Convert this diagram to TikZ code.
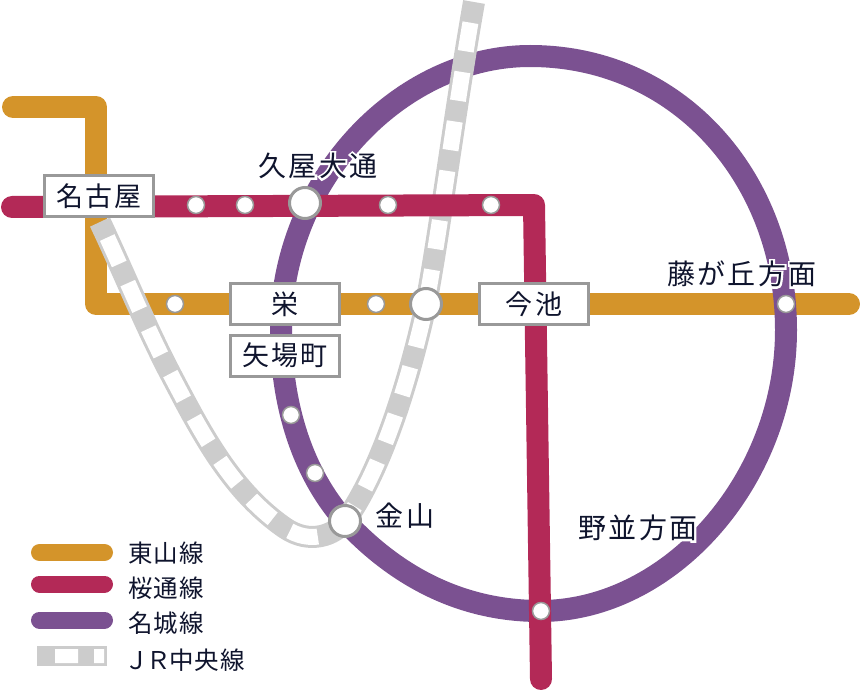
\documentclass[tikz,border=0pt]{standalone}
\usepackage{fontspec}
\usetikzlibrary{positioning}
\newfontfamily\jpfont[LetterSpace=8]{Noto Sans CJK JP}
\newfontfamily\halofont[LetterSpace=8,FakeBold=14]{Noto Sans CJK JP}
\newfontfamily\keyfont[LetterSpace=4]{Noto Sans CJK JP}
\definecolor{higashi}{RGB}{212,148,42}
\definecolor{sakura}{RGB}{179,41,87}
\definecolor{meijo}{RGB}{123,81,145}
\definecolor{jrgrey}{RGB}{204,204,204}
\definecolor{frame}{RGB}{153,153,153}
\definecolor{ink}{RGB}{15,20,45}
\newcommand{\halotext}[1]{\rlap{\halofont\color{white}#1}#1}
\tikzset{
 linepath/.style={line width=22pt,line join=round,line cap=round},
 stop/.style={circle,draw=frame,fill=white,line width=1.5pt,minimum size=17pt,inner sep=0pt},
 bigstop/.style={circle,draw=frame,fill=white,line width=3pt,minimum size=31pt,inner sep=0pt},
 namebox/.style={draw=frame,fill=white,line width=3pt,minimum width=109pt,minimum height=41pt,inner sep=0pt,font=\fontsize{27}{27}\jpfont,text=ink},
 namelabel/.style={font=\fontsize{28}{28}\jpfont,text=ink,inner sep=0pt},
 pill/.style={line width=17pt,line cap=round},
 keylabel/.style={font=\fontsize{24.5}{25}\keyfont,text=ink,inner sep=0pt,anchor=west}
}
\newcommand{\jrpath}{(474,2) .. controls (455,110) and (440,230) .. (426,304) .. controls (405,400) and (375,480) .. (345,521) .. controls (335,535) and (310,545) .. (285,528) .. controls (230,490) and (200,430) .. (170,373) .. controls (145,325) and (125,275) .. (100,222)}
\begin{document}
\begin{tikzpicture}[x=1pt,y=-1pt]
 \useasboundingbox (0,0) rectangle (860,690);
 % lines
 \draw[linepath,higashi] (13,107) -- (96,107) -- (96,304) -- (849,304);
 \draw[line width=22pt,meijo] (530,56) .. controls (680,56) and (786,180) .. (786,330) .. controls (786,480) and (670,611) .. (540,611) .. controls (460,611) and (395,575) .. (345,521) .. controls (300,470) and (281,400) .. (281,330) .. controls (281,180) and (400,56) .. cycle;
 % JR line with its ties
 \draw[line width=22pt,jrgrey] \jrpath;
 \draw[line width=16pt,white,dash pattern=on 29pt off 21pt,dash phase=29pt] \jrpath;
 \draw[linepath,sakura] (12,207) -- (534,205) -- (541,679);
 % small stops
 \node[stop] (s1) at (196,205){};
 \node[stop] (s2) at (245,205){};
 \node[stop] (s3) at (388,205){};
 \node[stop] (s4) at (491,205){};
 \node[stop] (h1) at (175,304){};
 \node[stop] (h2) at (376,304){};
 \node[stop] (fuji) at (786,304){};
 \node[stop] (m1) at (291,415){};
 \node[stop] (m2) at (315,473){};
 \node[stop] (nami) at (541,611){};
 % interchange stops
 \node[bigstop] (hisaya) at (305,203){};
 \node[bigstop] (jrsakae) at (426,304){};
 \node[bigstop] (kanayama) at (345,521){};
 % boxed names
 \node[namebox] (nagoya) at (99,196){名古屋};
 \node[namebox] (sakae) at (285,304){栄};
 \node[namebox] (yaba) at (285,355.5){矢場町};
 \node[namebox] (imaike) at (534,304){今池};
 % free names
 \node[namelabel] (hisayaname) at (318,166){\halotext{久屋大通}};
 \node[namelabel] (fujiname) at (742,274){\halotext{藤が丘方面}};
 \node[namelabel] (kananame) at (405,516){金山};
 \node[namelabel] (naminame) at (638,528){\halotext{野並方面}};
 % legend
 \draw[pill,higashi] (39.5,552.5) -- (104.5,552.5);
 \draw[pill,sakura] (39.5,584) -- (104.5,584);
 \draw[pill,meijo] (39.5,620) -- (104.5,620);
 \fill[jrgrey] (37,646) rectangle (107,666);
 \fill[white] (55,649) rectangle (78,663) (94,649) rectangle (104,663);
 \node[keylabel] (key1) at (128,553){東山線};
 \node[keylabel] (key2) at (128,588){桜通線};
 \node[keylabel] (key3) at (128,623){名城線};
 \node[keylabel] (key4) at (124,660){Ｊ\kern-2ptＲ\kern-2pt中央線};
\end{tikzpicture}
\end{document}
